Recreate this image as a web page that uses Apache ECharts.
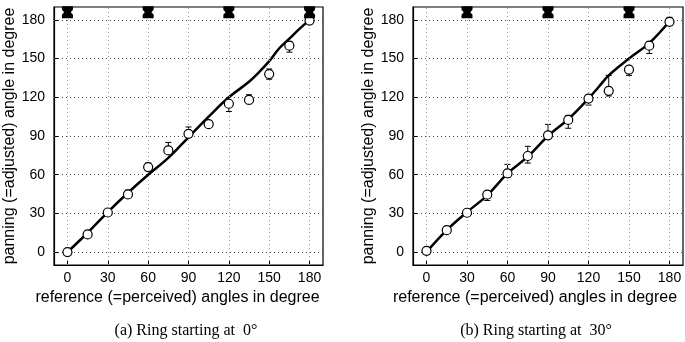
<!DOCTYPE html>
<html>
<head>
<meta charset="utf-8">
<script src="https://cdn.jsdelivr.net/npm/echarts@6/dist/echarts.min.js"></script>
<style>
  html, body { margin: 0; padding: 0; background: #fff; }
  #chart { width: 685px; height: 342px; }
</style>
</head>
<body>
<div id="chart"></div>
<script>
// tick labels, same on both panels
var tickValues = [0, 30, 60, 90, 120, 150, 180];

// (a) ring starting at 0 deg
var refA  = [0, 15, 30, 45, 60, 75, 90, 105, 120, 135, 150, 165, 180];
var meanA = [0, 13.7, 30.7, 44.7, 65.9, 78.8, 91.7, 99.2, 115, 118, 138, 160, 179.5];
var lowA  = [0, 13, 30, 44, 63, 77, 89, 97, 109, 115, 134, 155, 178];
var highA = [0, 15, 32, 48, 69, 85, 97, 101, 117, 122, 142, 163, 183];
var fitXA = [0, 15, 30, 45, 60, 75, 90, 105, 120, 135, 142.5, 150, 157.5, 165, 172.5, 180];
var fitYA = [0, 15, 31, 46, 60, 73, 89, 105, 120, 132, 139.5, 148, 158, 165.5, 173, 180];
var speakersA = [0, 60, 120, 180];

// (b) ring starting at 30 deg
var refB  = [0, 15, 30, 45, 60, 75, 90, 105, 120, 135, 150, 165, 180];
var meanB = [1, 17, 30.5, 44.5, 61, 74.5, 90.5, 102.5, 119, 125, 141.5, 160, 178.5];
var lowB  = [0, 16, 30, 40, 58, 69, 88, 96, 114, 121, 137, 154, 177];
var highB = [2, 18, 31, 47, 68, 82, 99, 106, 121, 137, 144, 163, 182];
var fitXB = [0, 15, 30, 45, 60, 75, 90, 105, 120, 127.5, 135, 150, 165, 180];
var fitYB = [0, 17, 31, 44, 61, 74, 90, 103, 119, 128, 137, 150, 162, 179];
var speakersB = [30, 90, 150];

var speakerLevel = 186;

var sans = "'Liberation Sans', Arial, sans-serif";
var serif = "'Liberation Serif', 'Times New Roman', serif";
var speakerPath = "path://M0,0 H10 V3.5 L8,6 L10,8.5 V12 H0 V8.5 L2,6 L0,3.5 Z";

function zip(xs, ys) {
  return xs.map(function (x, i) { return [x, ys[i]]; });
}

function xAxisFor(gi, shift) {
  return {
    type: "value", gridIndex: gi, min: -10, max: 190,
    name: "reference (=perceived) angles in degree",
    nameLocation: "middle", nameGap: 25,
    nameTextStyle: { fontSize: 16, color: "#000", fontFamily: sans, padding: [0, shift, 0, 0] },
    axisLine: { show: true, onZero: false, lineStyle: { color: "#000", width: 1.2 } },
    axisTick: { show: true, inside: true, length: 4, customValues: tickValues, lineStyle: { color: "#000" } },
    axisLabel: { customValues: tickValues, fontSize: 14, color: "#000", margin: 6, fontFamily: sans },
    splitLine: { show: false }
  };
}

function yAxisFor(gi) {
  return {
    type: "value", gridIndex: gi, min: -10, max: 190,
    name: "panning (=adjusted) angle in degree",
    nameLocation: "middle", nameGap: 36,
    nameTextStyle: { fontSize: 16, color: "#000", fontFamily: sans },
    axisLine: { show: true, onZero: false, lineStyle: { color: "#000", width: 1.2 } },
    axisTick: { show: true, inside: true, length: 4, customValues: tickValues, lineStyle: { color: "#000" } },
    axisLabel: { customValues: tickValues, fontSize: 14, color: "#000", margin: 9, fontFamily: sans },
    splitLine: { show: false }
  };
}

function errorBars(gi, xs, lo, hi) {
  return {
    type: "custom", xAxisIndex: gi, yAxisIndex: gi, z: 3,
    data: xs.map(function (x, i) { return [x, lo[i], hi[i]]; }),
    encode: { x: 0, y: [1, 2] },
    renderItem: function (params, api) {
      var x = api.value(0);
      var a = api.coord([x, api.value(1)]);
      var b = api.coord([x, api.value(2)]);
      var cap = 3;
      var st = { stroke: "#000", lineWidth: 1 };
      return {
        type: "group",
        children: [
          { type: "line", shape: { x1: a[0], y1: a[1], x2: b[0], y2: b[1] }, style: st },
          { type: "line", shape: { x1: a[0] - cap, y1: a[1], x2: a[0] + cap, y2: a[1] }, style: st },
          { type: "line", shape: { x1: b[0] - cap, y1: b[1], x2: b[0] + cap, y2: b[1] }, style: st }
        ]
      };
    }
  };
}

function gridLines(gi) {
  var data = tickValues.map(function (v) {
    return { xAxis: v, lineStyle: { color: "#999" } };
  }).concat(tickValues.map(function (v) {
    return { yAxis: v, lineStyle: { color: "#444" } };
  }));
  return {
    type: "scatter", xAxisIndex: gi, yAxisIndex: gi, data: [], z: 1, silent: true,
    markLine: {
      silent: true, symbol: "none", label: { show: false },
      lineStyle: { type: [1, 3], width: 1 },
      data: data
    }
  };
}

function panel(gi, refs, mean, lo, hi, fx, fy, spk) {
  return [
    gridLines(gi),
    errorBars(gi, refs, lo, hi),
    {
      type: "line", xAxisIndex: gi, yAxisIndex: gi, z: 4,
      data: zip(fx, fy), smooth: 0.4, showSymbol: false, symbol: "none",
      lineStyle: { color: "#000", width: 2.5 }
    },
    {
      type: "scatter", xAxisIndex: gi, yAxisIndex: gi, z: 5,
      data: zip(refs, mean), symbol: "circle", symbolSize: 9,
      itemStyle: { color: "#fff", opacity: 1, borderColor: "#000", borderWidth: 1.2 }
    },
    {
      type: "scatter", xAxisIndex: gi, yAxisIndex: gi, z: 6, clip: false,
      data: spk.map(function (s) { return [s, speakerLevel]; }),
      symbol: speakerPath, symbolSize: [11, 12],
      itemStyle: { color: "#000", opacity: 1 }
    }
  ];
}

var chart = echarts.init(document.getElementById("chart"));
chart.setOption({
  animation: false,
  backgroundColor: "#fff",
  grid: [
    { left: 54, top: 7, width: 269, height: 258, show: true, borderColor: "#000", borderWidth: 1.2, backgroundColor: "transparent" },
    { left: 413, top: 7, width: 270, height: 258, show: true, borderColor: "#000", borderWidth: 1.2, backgroundColor: "transparent" }
  ],
  xAxis: [xAxisFor(0, 22), xAxisFor(1, 26)],
  yAxis: [yAxisFor(0), yAxisFor(1)],
  series: panel(0, refA, meanA, lowA, highA, fitXA, fitYA, speakersA)
    .concat(panel(1, refB, meanB, lowB, highB, fitXB, fitYB, speakersB)),
  graphic: [
    { type: "text", x: 186, y: 331, style: { text: "(a) Ring starting at  0°", font: "16px " + serif, fill: "#000", align: "center", verticalAlign: "middle" } },
    { type: "text", x: 536, y: 331, style: { text: "(b) Ring starting at  30°", font: "16px " + serif, fill: "#000", align: "center", verticalAlign: "middle" } }
  ]
});
</script>
</body>
</html>
